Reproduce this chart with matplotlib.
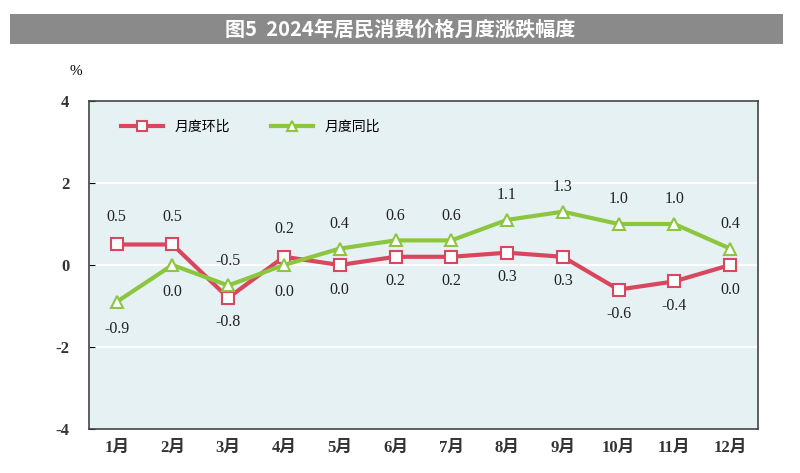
import matplotlib
matplotlib.use('Agg')
import matplotlib.pyplot as plt
from matplotlib.patches import Rectangle

plt.rcParams['font.family'] = ['Liberation Serif', 'Noto Sans CJK SC']
plt.rcParams['axes.unicode_minus'] = False

# data
months = ['1月', '2月', '3月', '4月', '5月', '6月', '7月', '8月', '9月', '10月', '11月', '12月']
mom = [0.5, 0.5, -0.8, 0.2, 0.0, 0.2, 0.2, 0.3, 0.2, -0.6, -0.4, 0.0]
yoy = [-0.9, 0.0, -0.5, 0.0, 0.4, 0.6, 0.6, 1.1, 1.3, 1.0, 1.0, 0.4]
mom_labels = ['0.5', '0.5', '-0.8', '0.2', '0.0', '0.2', '0.2', '0.3', '0.3', '-0.6', '-0.4', '0.0']
yoy_labels = ['-0.9', '0.0', '-0.5', '0.0', '0.4', '0.6', '0.6', '1.1', '1.3', '1.0', '1.0', '0.4']
mom_above = [True, True, False, True, False, False, False, False, False, False, False, False]

red = '#d9475e'
green = '#8cc63f'

fig = plt.figure(figsize=(8, 4.73), dpi=100)
ax = fig.add_axes([0.111, 0.093, 0.8365, 0.6935])

# gray title bar
fig.patches.append(Rectangle((0.0125, 0.907), 0.966, 0.063, transform=fig.transFigure,
                             facecolor='#8a8a8a', edgecolor='none'))
fig.text(0.5, 0.9385, '图5  2024年居民消费价格月度涨跌幅度', color='white', fontsize=14.5,
         fontweight='bold', ha='center', va='center', family=['Noto Sans CJK SC', 'DejaVu Sans'])
fig.text(0.095, 0.848, '%', fontsize=11, ha='center', va='center')

x = list(range(1, 13))
ax.set_facecolor('#e6f1f3')
ax.plot(x, mom, color=red, lw=3, marker='s', ms=8.5, mfc='white', mec=red, mew=1.5,
        label='月度环比', zorder=3)
ax.plot(x, yoy, color=green, lw=3, marker='^', ms=8.5, mfc='white', mec=green, mew=1.5,
        label='月度同比', zorder=3)

for i in range(12):
    if mom_above[i]:
        ax.annotate(mom_labels[i], (x[i], mom[i]), xytext=(0, 14), textcoords='offset points',
                    ha='center', va='bottom', fontsize=11.5, color='#222222')
        ax.annotate(yoy_labels[i], (x[i], yoy[i]), xytext=(0, -14), textcoords='offset points',
                    ha='center', va='top', fontsize=11.5, color='#222222')
    else:
        ax.annotate(yoy_labels[i], (x[i], yoy[i]), xytext=(0, 12), textcoords='offset points',
                    ha='center', va='bottom', fontsize=11.5, color='#222222')
        ax.annotate(mom_labels[i], (x[i], mom[i]), xytext=(0, -12), textcoords='offset points',
                    ha='center', va='top', fontsize=11.5, color='#222222')

ax.set_xlim(0.5, 12.5)
ax.set_ylim(-4, 4)
ax.set_yticks([-4, -2, 0, 2, 4])
ax.set_xticks(x)
ax.set_xticklabels(months)
ax.tick_params(axis='x', length=0, labelsize=12, pad=8)
ax.tick_params(axis='y', length=4, direction='in', labelsize=12, pad=14)
for t in ax.get_xticklabels() + ax.get_yticklabels():
    t.set_fontweight('bold')
    t.set_color('#333333')
for yv in [-2, 0, 2]:
    ax.axhline(yv, color='white', lw=1.5, zorder=1)
for s in ax.spines.values():
    s.set_color('#444444')
    s.set_linewidth(1.2)

ax.legend(loc='upper left', bbox_to_anchor=(0.03, 0.98), ncol=2, frameon=False,
          fontsize=11.5, handlelength=3, columnspacing=3, markerscale=0.8,
          prop={'family': ['Noto Sans CJK SC']})

fig.savefig('out.png', dpi=100)
